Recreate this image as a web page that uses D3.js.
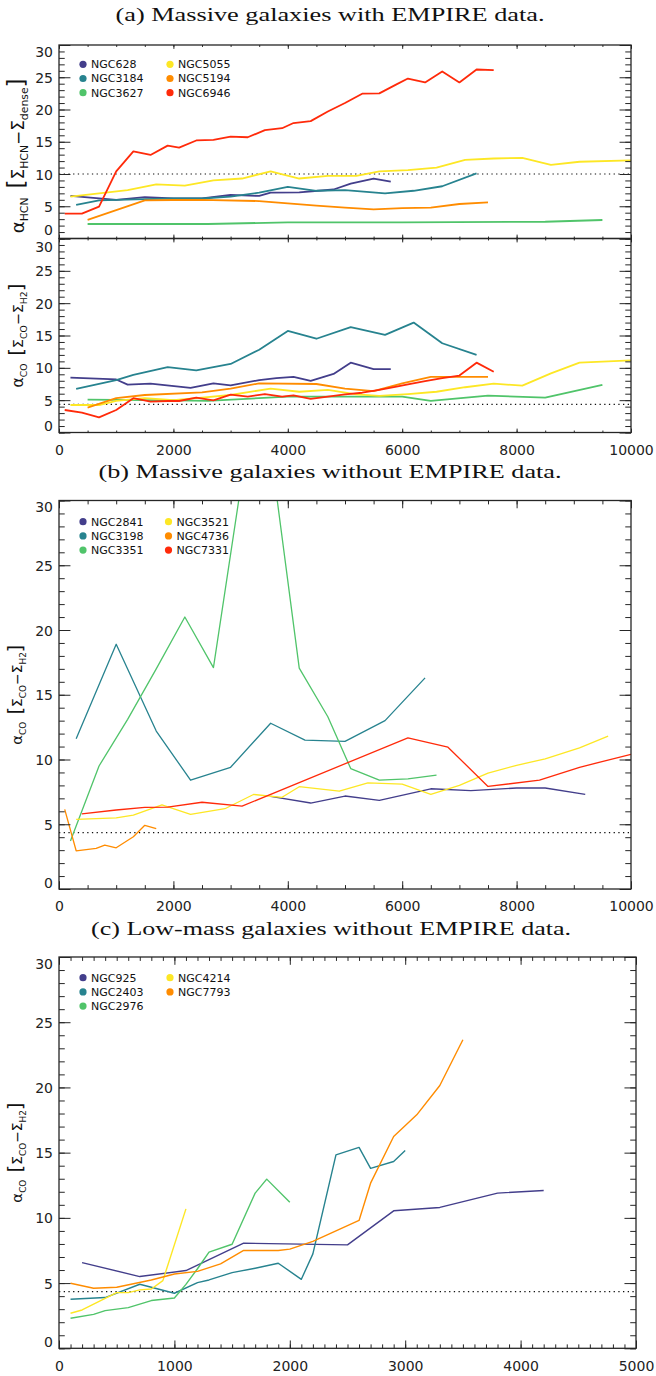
<!DOCTYPE html>
<html><head><meta charset="utf-8">
<script src="https://cdn.jsdelivr.net/npm/d3@7/dist/d3.min.js"></script>
<style>body{margin:0;background:#fff}</style>
</head><body>
<svg id="chart" width="656" height="1376" xmlns="http://www.w3.org/2000/svg"></svg>
<script>
// ---------------- DATA ----------------
const legendA = ["NGC628","NGC3184","NGC3627","NGC5055","NGC5194","NGC6946"];
const legendB = ["NGC2841","NGC3198","NGC3351","NGC3521","NGC4736","NGC7331"];
const legendC = ["NGC925","NGC2403","NGC2976","NGC4214","NGC7793"];
const palette = ["#433e8b","#27838f","#50c46a","#fde725","#ff8c00","#ff2a0a"];

const xTicksAB = [0,2000,4000,6000,8000,10000];
const xTicksC = [0,1000,2000,3000,4000,5000];
const yTicks = [0,5,10,15,20,25,30];
const mwHCN = 10;
const mwCO = 4.35;

// panel (a), alpha_HCN
const ngc628_hcn = [[200,6.6],[1000,6.0],[1500,6.4],[2000,6.2],[2500,6.2],[3000,6.75],[3500,6.6],[3700,7.1],[4200,7.15],[4800,7.6],[5100,8.5],[5500,9.3],[5800,8.8]];
const ngc3184_hcn = [[300,5.2],[700,5.9],[1500,6.1],[2000,6.2],[2500,6.2],[3000,6.5],[3500,7.1],[4000,8.0],[4500,7.4],[5000,7.5],[5700,7.0],[6200,7.4],[6700,8.1],[7300,10.1]];
const ngc3627_hcn = [[500,2.25],[2600,2.25],[4000,2.5],[6000,2.5],[8500,2.6],[9500,2.87]];
const ngc5055_hcn = [[200,6.5],[700,7.0],[1200,7.5],[1700,8.4],[2200,8.2],[2700,9.0],[3200,9.3],[3700,10.4],[4200,9.3],[4700,9.7],[5200,9.7],[5600,10.4],[6100,10.6],[6600,11.0],[7100,12.2],[7600,12.4],[8100,12.5],[8600,11.4],[9100,11.9],[10000,12.1]];
const ngc5194_hcn = [[500,2.9],[1500,5.9],[2000,5.97],[2500,6.0],[3500,5.8],[4000,5.45],[4500,5.1],[5000,4.8],[5500,4.5],[6000,4.7],[6500,4.8],[7000,5.35],[7500,5.6]];
const ngc6946_hcn = [[100,3.85],[400,3.85],[700,4.94],[1000,10.4],[1300,13.5],[1600,12.95],[1900,14.4],[2100,14.1],[2400,15.2],[2700,15.3],[3000,15.8],[3300,15.7],[3600,16.8],[3900,17.1],[4100,17.9],[4400,18.2],[4700,19.7],[5000,21.0],[5300,22.45],[5600,22.5],[5900,23.9],[6100,24.8],[6400,24.2],[6700,25.9],[7000,24.2],[7300,26.2],[7600,26.1]];

// panel (a), alpha_CO
const ngc628_co = [[200,8.5],[1000,8.2],[1200,7.4],[1600,7.55],[2300,6.9],[2700,7.6],[3000,7.3],[3500,8.1],[3800,8.4],[4100,8.6],[4400,8.0],[4800,9.05],[5100,10.8],[5500,9.8],[5800,9.8]];
const ngc3184_co = [[300,6.73],[1000,8.1],[1300,8.9],[1900,10.1],[2400,9.6],[3000,10.6],[3500,12.8],[4000,15.7],[4500,14.5],[5100,16.3],[5700,15.1],[6200,17.0],[6700,13.8],[7300,12.0]];
const ngc3627_co = [[500,5.08],[2000,4.98],[2600,4.9],[4000,5.55],[6000,5.55],[6500,4.9],[7500,5.7],[8500,5.4],[9500,7.35]];
const ngc5055_co = [[200,4.25],[700,4.25],[1000,4.9],[1500,5.3],[2000,5.0],[2500,5.4],[3000,5.8],[3700,6.8],[4200,6.3],[4700,6.6],[5200,5.9],[5600,5.65],[6100,5.95],[6600,6.3],[7100,7.0],[7600,7.55],[8100,7.25],[8600,9.15],[9100,10.8],[10000,11.15]];
const ngc5194_co = [[500,3.84],[1000,5.3],[1500,5.8],[2500,6.2],[3000,6.8],[3500,7.6],[4500,7.5],[5000,6.8],[5500,6.4],[6000,7.6],[6500,8.6],[7000,8.6],[7500,8.6]];
const ngc6946_co = [[100,3.48],[400,3.07],[700,2.35],[1000,3.48],[1300,5.3],[1600,4.77],[1900,4.87],[2100,4.87],[2400,5.4],[2700,4.97],[3000,5.85],[3300,5.55],[3600,5.95],[3900,5.55],[4100,5.75],[4400,5.2],[4700,5.55],[5000,5.9],[5300,6.15],[5600,6.6],[5900,7.1],[6100,7.45],[6400,7.95],[6700,8.4],[7000,8.8],[7300,10.8],[7600,9.4]];

// panel (b), alpha_CO
const ngc2841_co = [[3700,7.15],[4400,6.64],[5000,7.18],[5600,6.85],[6500,7.74],[7200,7.6],[8000,7.8],[8500,7.8],[9200,7.3]];
const ngc3198_co = [[300,11.6],[1000,18.9],[1700,12.2],[2300,8.4],[3000,9.4],[3700,12.8],[4300,11.5],[5000,11.4],[5700,13.0],[6400,16.3]];
const ngc3351_co = [[200,3.7],[700,9.5],[1200,13.1],[1700,17.0],[2200,21.0],[2700,17.1],[3200,31.7],[3700,33.9],[4200,17.05],[4700,13.3],[5100,9.3],[5600,8.4],[6100,8.5],[6600,8.8]];
const ngc3521_co = [[300,5.38],[1000,5.5],[1300,5.7],[1800,6.5],[2300,5.77],[2900,6.2],[3400,7.3],[3900,7.08],[4200,7.9],[4900,7.55],[5400,8.2],[6000,8.1],[6500,7.3],[7000,8.0],[7500,8.95],[8000,9.55],[8500,10.05],[9100,10.9],[9600,11.8]];
const ngc4736_co = [[100,6.15],[300,2.95],[650,3.13],[800,3.38],[1000,3.18],[1300,4.03],[1500,4.92],[1700,4.67]];
const ngc7331_co = [[400,5.8],[1000,6.1],[1500,6.3],[1900,6.33],[2500,6.7],[3200,6.4],[6100,11.67],[6800,10.95],[7500,7.92],[8400,8.4],[9100,9.4],[10000,10.4]];

// panel (c), alpha_CO
const ngc925_co = [[200,6.57],[700,5.5],[1100,5.96],[1600,8.06],[2500,7.93],[2900,10.54],[3300,10.8],[3800,11.9],[4200,12.1]];
const ngc2403_co = [[100,3.76],[400,3.89],[700,4.91],[1000,4.22],[1200,5.04],[1300,5.24],[1500,5.8],[1700,6.14],[1900,6.52],[2100,5.29],[2200,7.24],[2400,14.83],[2600,15.4],[2700,13.8],[2900,14.32],[3000,15.17]];
const ngc2976_co = [[100,2.3],[300,2.6],[400,2.89],[600,3.12],[800,3.66],[1000,3.86],[1100,4.9],[1200,6.1],[1300,7.37],[1500,7.98],[1700,11.9],[1800,12.97],[2000,11.2]];
const ngc4214_co = [[100,2.69],[200,2.94],[500,4.27],[600,4.27],[700,4.48],[800,4.55],[900,5.19],[1100,10.69]];
const ngc7793_co = [[100,4.99],[300,4.6],[500,4.68],[800,5.24],[1000,5.7],[1200,5.9],[1400,6.47],[1600,7.5],[1900,7.5],[2000,7.6],[2200,8.2],[2600,9.8],[2700,12.66],[2900,16.24],[3100,17.9],[3300,20.15],[3500,23.66]];

// ---------------- DRAWING ----------------
const svg = d3.select("#chart");
const AX = "#262626";
const FONT = "'DejaVu Sans', 'Liberation Sans', sans-serif";
let clipId = 0;

function panel(cfg) {
  const x = d3.scaleLinear().domain(cfg.xDomain).range([cfg.left, cfg.right]);
  const y = d3.scaleLinear().domain([0, 30]).range([cfg.bottom, cfg.top]);
  const g = svg.append("g");
  const w = cfg.right - cfg.left, h = cfg.bottom - cfg.top;
  const xl = 0.02 * h, yl = 0.02 * w;
  const xMinor = d3.range(cfg.xDomain[0], cfg.xDomain[1] + 1e-6, cfg.xMinor);
  const yMinor = d3.range(0, 31, 1);

  // dotted MW line
  g.append("line").attr("x1", cfg.left).attr("x2", cfg.right)
    .attr("y1", y(cfg.mw)).attr("y2", y(cfg.mw))
    .attr("stroke", "#111").attr("stroke-width", 1.2).attr("stroke-dasharray", "1.3,3.4");

  // series
  const id = "clip" + (clipId++);
  svg.append("clipPath").attr("id", id).append("rect")
    .attr("x", cfg.left).attr("y", cfg.top).attr("width", w).attr("height", h);
  const line = d3.line().x(d => x(d[0])).y(d => y(d[1]));
  const lg = g.append("g").attr("clip-path", `url(#${id})`);
  cfg.series.forEach((s, i) => {
    lg.append("path").attr("d", line(s)).attr("fill", "none")
      .attr("stroke", cfg.colors[i]).attr("stroke-width", cfg.lw)
      .attr("stroke-linejoin", "round");
  });

  // axes: bottom / top / left / right ticks
  const mk = (axisFn, scale, vals, len, tr) => {
    const a = g.append("g").attr("transform", tr)
      .call(axisFn(scale).tickValues(vals).tickSize(-len).tickFormat(""));
    a.select(".domain").remove();
    a.selectAll("line").attr("stroke", AX).attr("stroke-width", 1);
    return a;
  };
  mk(d3.axisBottom, x, xMinor, xl / 2, `translate(0,${cfg.bottom})`);
  mk(d3.axisTop, x, xMinor, xl / 2, `translate(0,${cfg.top})`);
  mk(d3.axisBottom, x, cfg.xMajor, xl, `translate(0,${cfg.bottom})`);
  mk(d3.axisTop, x, cfg.xMajor, xl, `translate(0,${cfg.top})`);
  mk(d3.axisLeft, y, yMinor, yl / 2, `translate(${cfg.left},0)`);
  mk(d3.axisRight, y, yMinor, yl / 2, `translate(${cfg.right},0)`);
  mk(d3.axisLeft, y, yTicks, yl, `translate(${cfg.left},0)`);
  mk(d3.axisRight, y, yTicks, yl, `translate(${cfg.right},0)`);

  // y labels
  const zeroDy = cfg.zeroDy || "-0.12em", topDy = cfg.topDy || "0.8em";
  const ya = g.append("g").attr("transform", `translate(${cfg.left},0)`)
    .call(d3.axisLeft(y).tickValues(yTicks).tickSize(0).tickPadding(6).tickFormat(d3.format("d")));
  ya.select(".domain").remove();
  ya.selectAll("text").attr("font-family", FONT).attr("font-size", 14).attr("fill", "#222")
    .attr("dy", d => d === 30 ? topDy : d === 0 ? zeroDy : "0.36em");

  if (cfg.xLabels) {
    const xa = g.append("g").attr("transform", `translate(0,${cfg.bottom})`)
      .call(d3.axisBottom(x).tickValues(cfg.xMajor).tickSize(0).tickPadding(12.5).tickFormat(d3.format("d")));
    xa.select(".domain").remove();
    xa.selectAll("text").attr("font-family", FONT).attr("font-size", 14).attr("fill", "#222");
  }

  // frame
  g.append("rect").attr("x", cfg.left).attr("y", cfg.top).attr("width", w).attr("height", h)
    .attr("fill", "none").attr("stroke", AX).attr("stroke-width", 1.3);

  // legend
  if (cfg.legend) {
    const L = g.append("g");
    cfg.legend.forEach((name, i) => {
      const col = Math.floor(i / 3), row = i % 3;
      const cx = cfg.legX[col], cy = cfg.legY + row * cfg.legDy;
      L.append("circle").attr("cx", cx).attr("cy", cy).attr("r", 3.6).attr("fill", cfg.colors[i]);
      L.append("text").attr("x", cx + 8).attr("y", cy).attr("dy", "0.36em")
        .attr("font-family", FONT).attr("font-size", 11).attr("fill", "#111").text(name);
    });
  }

  // y title
  if (cfg.ytitle) yTitle(cfg.ytitle, 17.5, (cfg.top + cfg.bottom) / 2 + (cfg.ytitleShift || 0), cfg.ytitleLen);
}

function yTitle(parts, cx, cy, targetLen) {
  const g = svg.append("g");
  const t = g.append("text").attr("font-family", FONT).attr("fill", "#111").attr("y", 5);
  const add = (txt, fs, dy) => t.append("tspan").attr("font-size", fs).attr("dy", dy || 0).text(txt);
  add("\u03B1", 15);
  add(parts[0], 9, 4);
  add("\u2002", 15, -4);
  add("[", 19);
  add("\u03A3", 14);
  add(parts[1], 9, 4);
  add("\u2212", 14, -4);
  add("\u03A3", 14);
  add(parts[2], 9, 4);
  add("]", 19, -4);
  const bb = t.node().getBBox();
  const s = targetLen / bb.width;
  t.attr("x", -bb.width / 2);
  g.attr("transform", `translate(${cx},${cy}) rotate(-90) scale(${s})`);
}

function title(txt, cx, y, len) {
  svg.append("text").attr("x", cx).attr("y", y).attr("text-anchor", "middle")
    .attr("font-family", "'Liberation Serif', 'DejaVu Serif', serif").attr("font-size", 19.5)
    .attr("fill", "#111").attr("textLength", len).attr("lengthAdjust", "spacingAndGlyphs").text(txt);
}

title("(a) Massive galaxies with EMPIRE data.", 330, 21, 429);
title("(b) Massive galaxies without EMPIRE data.", 330, 478, 463);
title("(c) Low-mass galaxies without EMPIRE data.", 331, 935, 480);

panel({ left: 59, right: 631, top: 45, bottom: 238.5, xDomain: [0, 10000], xMajor: xTicksAB, xMinor: 500,
  mw: mwHCN, lw: 1.8, colors: palette, zeroDy: "-0.26em",
  series: [ngc628_hcn, ngc3184_hcn, ngc3627_hcn, ngc5055_hcn, ngc5194_hcn, ngc6946_hcn],
  legend: legendA, legX: [83, 170], legY: 64.3, legDy: 14.2,
  ytitle: ["HCN", "HCN", "dense"], ytitleLen: 155, ytitleShift: 14 });

panel({ left: 59, right: 631, top: 238.5, bottom: 432.5, xDomain: [0, 10000], xMajor: xTicksAB, xMinor: 500,
  mw: mwCO, lw: 1.8, colors: palette, xLabels: true, topDy: "0.95em",
  series: [ngc628_co, ngc3184_co, ngc3627_co, ngc5055_co, ngc5194_co, ngc6946_co],
  ytitle: ["CO", "CO", "H2"], ytitleLen: 104 });

panel({ left: 59, right: 631, top: 500.5, bottom: 889, xDomain: [0, 10000], xMajor: xTicksAB, xMinor: 500,
  mw: mwCO, lw: 1.3, colors: palette, xLabels: true,
  series: [ngc2841_co, ngc3198_co, ngc3351_co, ngc3521_co, ngc4736_co, ngc7331_co],
  legend: legendB, legX: [83, 168.5], legY: 521.7, legDy: 14.2,
  ytitle: ["CO", "CO", "H2"], ytitleLen: 100 });

panel({ left: 59, right: 636, top: 957, bottom: 1348.3, xDomain: [0, 5000], xMajor: xTicksC, xMinor: 100,
  mw: mwCO, lw: 1.4, colors: palette.slice(0, 5), xLabels: true,
  series: [ngc925_co, ngc2403_co, ngc2976_co, ngc4214_co, ngc7793_co],
  legend: legendC, legX: [83, 170], legY: 977.7, legDy: 14.2,
  ytitle: ["CO", "CO", "H2"], ytitleLen: 100 });
</script>
</body></html>
